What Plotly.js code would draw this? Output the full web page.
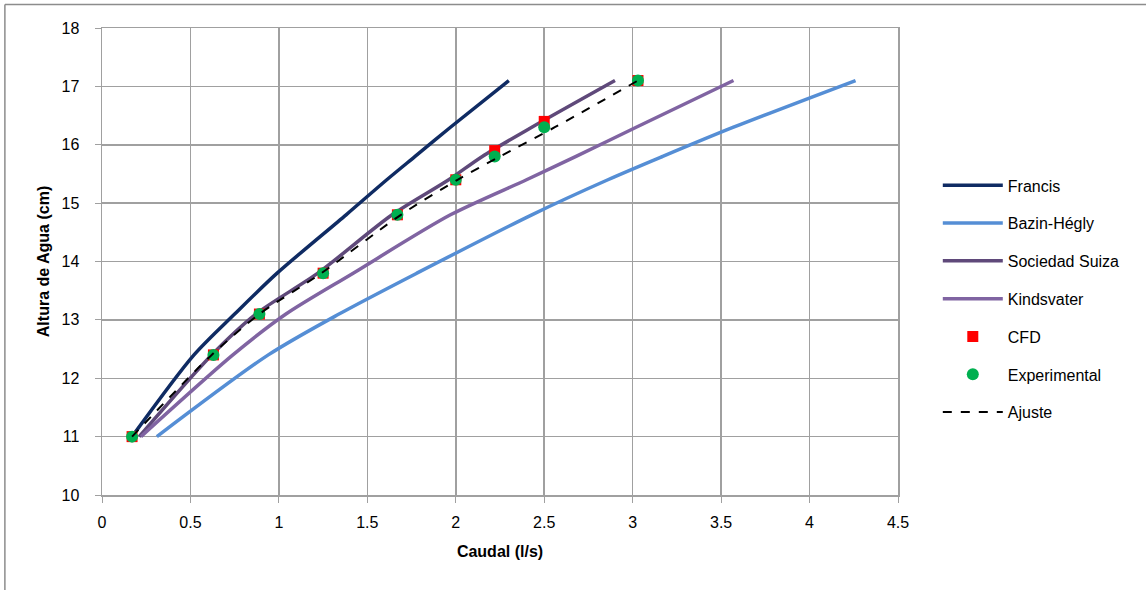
<!DOCTYPE html>
<html><head><meta charset="utf-8">
<script src="https://cdn.plot.ly/plotly-3.0.1.min.js"></script>
<style>html,body{margin:0;padding:0;background:#fff}#c{width:1146px;height:590px}</style>
</head><body><div id="c"></div>
<script>
const heights = [11, 12.4, 13.1, 13.8, 14.8, 15.4, 15.8, 16.3, 17.1];
const francisQ = [0.17, 0.52, 0.75, 0.99, 1.38, 1.61, 1.77, 1.97, 2.30];
const bazinQ = [0.31, 0.94, 1.34, 1.78, 2.43, 2.86, 3.17, 3.57, 4.26];
const suizaQ = [0.21, 0.62, 0.87, 1.22, 1.64, 1.96, 2.15, 2.43, 2.90];
const kindsQ = [0.22, 0.74, 1.04, 1.42, 1.97, 2.40, 2.68, 3.02, 3.57];
const cfdH = [11, 12.4, 13.1, 13.8, 14.8, 15.4, 15.9, 16.4, 17.1];
const cfdQ = [0.17, 0.63, 0.89, 1.25, 1.67, 2.00, 2.22, 2.50, 3.03];
const expH = [11, 12.4, 13.1, 13.8, 14.8, 15.4, 15.8, 16.3, 17.1];
const expQ = [0.17, 0.63, 0.89, 1.25, 1.67, 2.00, 2.22, 2.50, 3.03];
const ajusteH = [11, 12.4, 13.1, 13.8, 14.8, 15.4, 15.8, 16.3, 17.1];
const ajusteQ = [0.17, 0.62, 0.89, 1.24, 1.69, 2.01, 2.25, 2.56, 3.03];
const xTicks = [0, 0.5, 1, 1.5, 2, 2.5, 3, 3.5, 4, 4.5];
const yTicks = [10, 11, 12, 13, 14, 15, 16, 17, 18];

const FONT = 'Liberation Sans, Arial, sans-serif';
const traces = [
  {name:'Francis', legendgroup:'a', x:francisQ, y:heights, mode:'lines', line:{color:'#0F2B63', width:3.5, shape:'spline', smoothing:0.8}},
  {name:'Bazin-Hégly', legendgroup:'b', x:bazinQ, y:heights, mode:'lines', line:{color:'#558ED5', width:3.5, shape:'spline', smoothing:0.8}},
  {name:'Sociedad Suiza', legendgroup:'c', x:suizaQ, y:heights, mode:'lines', line:{color:'#5F497A', width:3.5, shape:'spline', smoothing:0.8}},
  {name:'Kindsvater', legendgroup:'d', x:kindsQ, y:heights, mode:'lines', line:{color:'#8064A2', width:3.5, shape:'spline', smoothing:0.8}},
  {name:'CFD', legendgroup:'e', x:cfdQ, y:cfdH, mode:'markers', marker:{symbol:'square', color:'#FF0000', size:11}},
  {name:'Experimental', legendgroup:'f', x:expQ, y:expH, mode:'markers', marker:{symbol:'circle', color:'#00B050', size:12}},
  {name:'Ajuste', legendgroup:'g', x:ajusteQ, y:ajusteH, mode:'lines', line:{color:'#000000', width:2, dash:'dash', shape:'spline', smoothing:0.8}}
];

const layout = {
  width:1146, height:590,
  margin:{l:102, r:248, t:28, b:95},
  paper_bgcolor:'#ffffff', plot_bgcolor:'#ffffff',
  font:{family:FONT, size:16, color:'#000'},
  showlegend:true,
  legend:{x:1.05, y:0.42, xanchor:'left', yanchor:'middle', font:{family:FONT, size:16, color:'#000'},
          itemwidth:60, traceorder:'grouped', tracegroupgap:14, bgcolor:'rgba(0,0,0,0)'},
  xaxis:{range:[0,4.5], tickvals:xTicks, ticktext:xTicks.map(String), showgrid:true, gridcolor:'#A0A0A0', gridwidth:1.5,
         showline:true, linecolor:'#A0A0A0', linewidth:1.5, mirror:true, ticks:'outside', ticklen:6, tickcolor:'#A0A0A0',
         zeroline:false, tickfont:{family:FONT, size:16}, ticklabelstandoff:6,
         title:{text:'<b>Caudal (l/s)</b>', font:{family:FONT, size:16}, standoff:16}},
  yaxis:{range:[10,18], tickvals:yTicks, ticktext:yTicks.map(String), showgrid:true, gridcolor:'#A0A0A0', gridwidth:1.5,
         showline:true, linecolor:'#A0A0A0', linewidth:1.5, mirror:true, ticks:'outside', ticklen:6, tickcolor:'#A0A0A0',
         zeroline:false, tickfont:{family:FONT, size:16}, ticklabelstandoff:12,
         title:{text:'<b>Altura de Agua (cm)</b>', font:{family:FONT, size:16}, standoff:8}},
  shapes:[
    {type:'line', xref:'paper', yref:'paper', x0:-0.122, x1:1.32, y0:1.0503, y1:1.0503, line:{color:'#8C8C8C', width:1.5}},
    {type:'line', xref:'paper', yref:'paper', x0:-0.122, x1:-0.122, y0:1.0503, y1:-0.21, line:{color:'#8C8C8C', width:1.5}}
  ]
};
Plotly.newPlot('c', traces, layout, {displayModeBar:false, staticPlot:true});
</script></body></html>
